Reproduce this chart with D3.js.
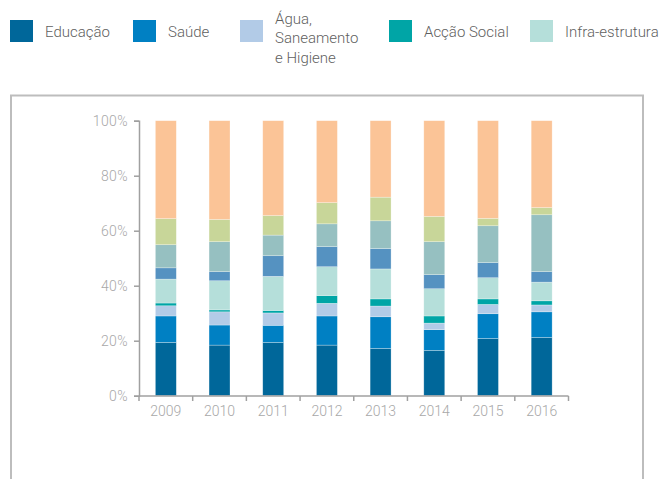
<!DOCTYPE html>
<html>
<head>
<meta charset="utf-8">
<script src="https://cdn.jsdelivr.net/npm/d3@7"></script>
<style>
  html, body { margin: 0; padding: 0; background: #fff; }
  svg { display: block; font-family: Roboto, "Noto Sans", sans-serif; font-weight: 300; }
</style>
</head>
<body>
<svg id="chart" width="666" height="479"></svg>
<script>
// Years on the horizontal axis
const years = ["2009", "2010", "2011", "2012", "2013", "2014", "2015", "2016"];

// Share of spending by sector, percent of each year's total (bottom to top)
const educacao      = [19.4, 18.4, 19.4, 18.4, 17.2, 16.5, 20.8, 21.2];
const saude         = [ 9.6,  7.3,  6.2, 10.6, 11.5,  7.5,  9.0,  9.3];
const agua          = [ 3.7,  4.8,  4.5,  4.6,  3.9,  2.4,  3.4,  2.5];
const accaoSocial   = [ 1.0,  0.7,  0.9,  2.8,  2.6,  2.6,  2.0,  1.5];
const infra         = [ 8.7, 10.6, 12.4, 10.5, 10.9,  9.9,  7.7,  6.8];
const governacao    = [ 4.1,  3.3,  7.5,  7.3,  7.4,  5.1,  5.5,  3.8];
const agricultura   = [ 8.4, 10.9,  7.5,  8.3, 10.1, 12.0, 13.4, 20.7];
const energia       = [ 9.5,  8.1,  7.1,  7.7,  8.6,  9.2,  2.7,  2.6];
const outros        = [35.6, 35.9, 34.5, 29.8, 27.8, 34.8, 35.5, 31.6];

const yTicks = [0, 20, 40, 60, 80, 100];

const series = [
  { key: "Educação", values: educacao, color: "#00679a", legend: ["Educação"] },
  { key: "Saúde", values: saude, color: "#0080c3", legend: ["Saúde"] },
  { key: "Água, Saneamento e Higiene", values: agua, color: "#b2cbe7", legend: ["Água,", "Saneamento", "e Higiene"] },
  { key: "Acção Social", values: accaoSocial, color: "#00a5a6", legend: ["Acção Social"] },
  { key: "Infra-estrutura", values: infra, color: "#b5dfda", legend: ["Infra-estrutura"] },
  { key: "Governação", values: governacao, color: "#5592c1", legend: null },
  { key: "Agricultura", values: agricultura, color: "#96c0c1", legend: null },
  { key: "Energia", values: energia, color: "#c8d699", legend: null },
  { key: "Outros", values: outros, color: "#fbc497", legend: null }
];

// Build rows for d3.stack
const rows = years.map((yr, i) => {
  const r = { year: yr };
  series.forEach(s => { r[s.key] = s.values[i]; });
  return r;
});
const stacked = d3.stack().keys(series.map(s => s.key)).offset(d3.stackOffsetExpand)(rows);

const svg = d3.select("#chart");

// Outer frame
svg.append("rect")
  .attr("x", 11).attr("y", 95.5)
  .attr("width", 632).attr("height", 420)
  .attr("fill", "none")
  .attr("stroke", "#bdbdbd")
  .attr("stroke-width", 2);

const x = d3.scaleBand().domain(years).range([139, 568.5]).paddingInner(0.61).paddingOuter(0.305);
const y = d3.scaleLinear().domain([0, 1]).range([395.7, 120.7]);

// Bars
const layers = svg.append("g").selectAll("g")
  .data(stacked)
  .join("g")
  .attr("fill", (d, i) => series[i].color);

layers.selectAll("rect")
  .data(d => d)
  .join("rect")
  .attr("x", d => x(d.data.year))
  .attr("width", x.bandwidth())
  .attr("y", d => y(d[1]))
  .attr("height", d => y(d[0]) - y(d[1]))
  .attr("stroke", "rgba(255,255,255,0.45)")
  .attr("stroke-width", 0.6);

// Y axis
const yAxis = d3.axisLeft(y)
  .tickValues(yTicks.map(v => v / 100))
  .tickFormat(v => Math.round(v * 100) + "%")
  .tickSize(5)
  .tickPadding(6);
const gy = svg.append("g").attr("transform", "translate(139,0)").call(yAxis);
gy.select(".domain").attr("stroke", "#a0a0a0").attr("stroke-width", 1.5);
gy.selectAll(".tick line").attr("stroke", "#a0a0a0").attr("stroke-width", 1.5);
gy.selectAll(".tick text")
  .attr("fill", "#a8a8a8")
  .style("font-family", "Roboto, sans-serif")
  .style("font-weight", 300)
  .style("font-size", "14px")
  .style("letter-spacing", "0.4px");

// X axis: ticks sit between the bars
const gx = svg.append("g").attr("transform", "translate(0,396)");
gx.append("line")
  .attr("x1", 139).attr("x2", 568.5)
  .attr("stroke", "#a0a0a0").attr("stroke-width", 1.5);
const step = x.step();
const boundaries = d3.range(years.length + 1).map(i => 139 + i * step);
gx.selectAll("line.tk")
  .data(boundaries)
  .join("line")
  .attr("class", "tk")
  .attr("x1", d => d).attr("x2", d => d)
  .attr("y1", 0).attr("y2", 5)
  .attr("stroke", "#a0a0a0").attr("stroke-width", 1.5);
gx.selectAll("text")
  .data(years)
  .join("text")
  .attr("x", d => x(d) + x.bandwidth() / 2)
  .attr("y", 20)
  .attr("text-anchor", "middle")
  .attr("fill", "#a8a8a8")
  .style("font-size", "14px")
  .text(d => d);

// Legend
const legendX = [10, 133, 240, 389, 530];
const legendItems = series.filter(s => s.legend);
const lg = svg.append("g").selectAll("g")
  .data(legendItems)
  .join("g")
  .attr("transform", (d, i) => `translate(${legendX[i]},20)`);
lg.append("rect")
  .attr("width", 23).attr("height", 22)
  .attr("fill", d => d.color);
lg.each(function (d) {
  const g = d3.select(this);
  const lines = d.legend;
  const t = g.append("text")
    .attr("x", 35)
    .attr("fill", "#5f5f5f")
    .style("font-size", "15px");
  lines.forEach((ln, j) => {
    t.append("tspan")
      .attr("x", 35)
      .attr("y", lines.length > 1 ? 3.5 + j * 19.5 : 17)
      .text(ln);
  });
});
</script>
</body>
</html>
